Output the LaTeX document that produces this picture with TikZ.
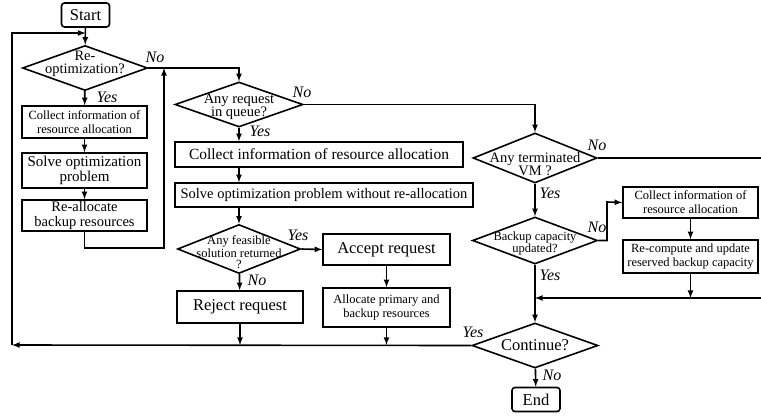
\documentclass[tikz,border=0pt]{standalone}
\usepackage{fontspec}
\setmainfont{Liberation Serif}
\usetikzlibrary{arrows, shapes.geometric}

\begin{document}
\begin{tikzpicture}
  [x=1pt, y=-1pt, >=latex, line width=1.6pt,
   box/.style={rectangle, draw, align=center, inner sep=1pt},
   terminal/.style={box, rounded corners=3pt, minimum width=48pt, minimum height=24pt, big},
   decision/.style={diamond, draw, inner sep=0pt},
   dtext/.style={align=center, inner sep=0pt},
   answer/.style={font=\fontsize{16}{18}\selectfont\itshape, inner sep=0pt},
   big/.style={font=\fontsize{16.5}{18}\selectfont},
   mid/.style={font=\fontsize{15}{15}\selectfont},
   small/.style={font=\fontsize{12.5}{14}\selectfont}]
  \useasboundingbox (0,0) rectangle (761,416);

  % left column: re-optimization
  \node (start) at (85.5,15) [terminal] {Start};
  \node (reopt) at (85,68) [decision, minimum width=125pt, minimum height=45pt,
    label={[dtext, font=\fontsize{14.5}{13.5}\selectfont, yshift=4pt]center:Re-\\optimization?}] {};
  \node (collect1) at (84.5,122) [box, small, minimum width=125pt, minimum height=32pt] {Collect information of\\resource allocation};
  \node (solve1) at (84.5,170.5) [box, mid, minimum width=125pt, minimum height=35pt] {Solve optimization\\problem};
  \node (realloc) at (84.5,215.5) [box, font=\fontsize{14.5}{14.5}\selectfont, minimum width=125pt, minimum height=31pt] {Re-allocate\\backup resources};

  % middle column: new requests
  \node (queue) at (239,104.5) [decision, minimum width=128pt, minimum height=45pt,
    label={[dtext, font=\fontsize{14.5}{13}\selectfont, yshift=-2pt]center:Any request\\in queue?}] {};
  \node (collect2) at (319,154.5) [box, font=\fontsize{15.5}{18}\selectfont, minimum width=288pt, minimum height=25pt] {Collect information of resource allocation};
  \node (solve2) at (324,195) [box, font=\fontsize{14.5}{18}\selectfont, minimum width=298pt, minimum height=24pt] {Solve optimization problem without re-allocation};
  \node (feas) at (239,249) [decision, minimum width=123pt, minimum height=49pt,
    label={[dtext, font=\fontsize{12.5}{11}\selectfont, yshift=-3pt]center:Any feasible\\solution returned\\?}] {};
  \node (accept) at (386.5,249.5) [box, big, minimum width=127pt, minimum height=31pt] {Accept request};
  \node (alloc) at (386.5,307.5) [box, small, minimum width=127pt, minimum height=39pt] {Allocate primary and\\backup resources};
  \node (reject) at (240,307) [box, big, minimum width=126pt, minimum height=32pt] {Reject request};

  % right column: terminated VMs
  \node (vm) at (535,158) [decision, minimum width=124pt, minimum height=50pt,
    label={[dtext, font=\fontsize{14.5}{12.5}\selectfont, yshift=-6pt]center:Any terminated\\VM ?}] {};
  \node (update) at (535,240.5) [decision, minimum width=125pt, minimum height=47pt,
    label={[dtext, font=\fontsize{12.5}{12}\selectfont, yshift=-3pt]center:Backup capacity\\updated?}] {};
  \node (collect3) at (690.5,202.5) [box, small, minimum width=135pt, minimum height=31pt] {Collect information of\\resource allocation};
  \node (recomp) at (690.5,256.5) [box, small, minimum width=135pt, minimum height=33pt] {Re-compute and update\\reserved backup capacity};
  \node (cont) at (535,345.5) [decision, minimum width=126pt, minimum height=45pt,
    label={[dtext, big]center:Continue?}] {};
  \node (end) at (536,399.5) [terminal] {End};

  % answers
  \node (n1) at (155,57) [answer] {No};
  \node (y1) at (107,97) [answer] {Yes};
  \node (n2) at (302,92) [answer] {No};
  \node (y2) at (260,131) [answer] {Yes};
  \node (y3) at (298,235) [answer] {Yes};
  \node (n3) at (257,280) [answer] {No};
  \node (n4) at (597,145) [answer] {No};
  \node (y4) at (550,193) [answer] {Yes};
  \node (n5) at (597,227) [answer] {No};
  \node (y5) at (550,275) [answer] {Yes};
  \node (y6) at (473,332) [answer] {Yes};
  \node (n6) at (552,375) [answer] {No};

  \coordinate (lft) at (12,345);
  \coordinate (top) at (12,33);
  \coordinate (back) at (164,248);
  \coordinate (jog) at (607,202);
  \coordinate (rt1) at (761,158);
  \coordinate (rt2) at (761,298);

  \draw [->] (start) to (reopt);
  \draw [->] (reopt) to (collect1);
  \draw [->] (collect1) to (solve1);
  \draw [->] (solve1) to (realloc);
  \draw [->] (realloc.south) |- (back) -- (back |- reopt);
  \draw [->] (reopt.east) -| (queue.north);
  \draw [->] (queue) to (queue |- collect2.north);
  \draw [->] (queue |- collect2.south) to (queue |- solve2.north);
  \draw [->] (queue |- solve2.south) to (feas.north);
  \draw [->] (feas.east) to (accept.west);
  \draw [->] (feas) to (reject);
  \draw [->] (accept) to (alloc);
  \draw [->] (reject) to (reject |- lft);
  \draw [->] (alloc) to (alloc |- lft);
  \draw [->] (cont.west) to (lft);
  \draw [->] (lft) -- (top) -- (top -| start);
  \draw [->] (queue.east) -| (vm.north);
  \draw (vm.east) to (rt1);
  \draw [->] (vm) to (update);
  \draw [->] (update.east) -| (jog) -- (collect3.west);
  \draw [->] (collect3) to (recomp);
  \draw [->] (recomp) to (recomp |- rt2);
  \draw [->] (rt2) to (cont |- rt2);
  \draw [->] (update) to (cont);
  \draw [->] (cont) to (end);
\end{tikzpicture}
\end{document}
